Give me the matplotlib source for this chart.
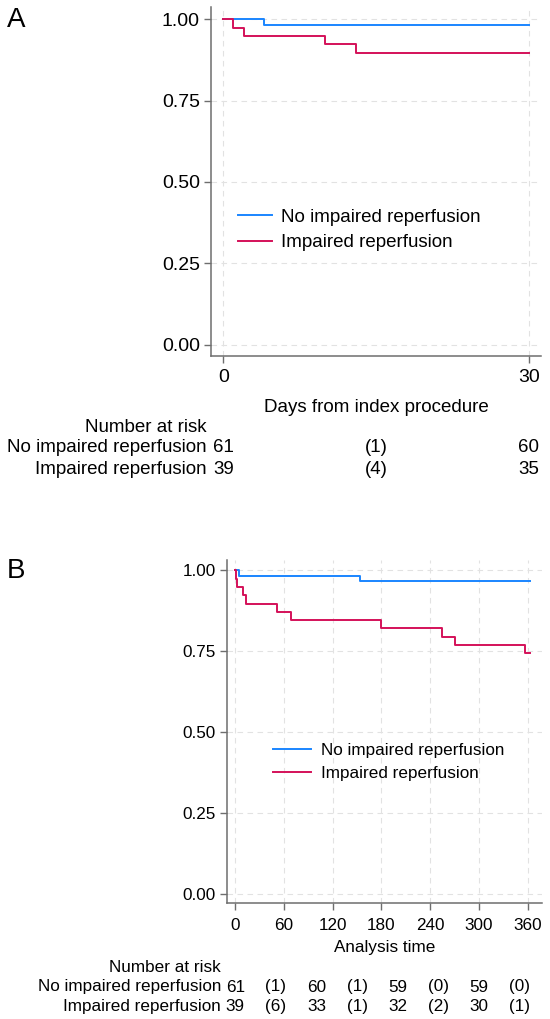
import matplotlib.pyplot as plt
import matplotlib.transforms as mtransforms

plt.rcParams['font.family'] = ['Liberation Sans', 'DejaVu Sans']

BLUE = "#1A85FF"
RED = "#D41159"
GROUPS = ["No impaired reperfusion", "Impaired reperfusion"]

# panel A: 30-day survival (days, survivor function)
a_no_t = [0, 4, 30]
a_no_s = [1.0, 0.984, 0.984]
a_imp_t = [0, 1, 2, 10, 13, 30]
a_imp_s = [1.0, 0.974, 0.949, 0.923, 0.897, 0.897]
a_risk_t = [0, 15, 30]
a_risk_no = ["61", "(1)", "60"]
a_risk_imp = ["39", "(4)", "35"]

# panel B: 1-year survival
b_no_t = [0, 4, 153, 363]
b_no_s = [1.0, 0.984, 0.967, 0.967]
b_imp_t = [0, 1, 2, 10, 13, 51, 68, 180, 255, 270, 357, 363]
b_imp_s = [1.0, 0.974, 0.949, 0.923, 0.897, 0.872, 0.846, 0.821, 0.795, 0.769, 0.744, 0.744]
b_risk_t = [0, 50, 100, 150, 200, 250, 300, 350]
b_risk_no = ["61", "(1)", "60", "(1)", "59", "(0)", "59", "(0)"]
b_risk_imp = ["39", "(6)", "33", "(1)", "32", "(2)", "30", "(1)"]

yticks = [0, 0.25, 0.5, 0.75, 1.0]
ylabels = ["0.00", "0.25", "0.50", "0.75", "1.00"]

W, H = 550, 1019
fig = plt.figure(figsize=(W / 100, H / 100), dpi=100)


def px_axes(l, t, r, b):
    return fig.add_axes([l / W, 1 - b / H, (r - l) / W, (b - t) / H])


def style(ax, fs, xticks, xpad):
    for s in ["top", "right"]:
        ax.spines[s].set_visible(False)
    for s in ["left", "bottom"]:
        ax.spines[s].set_color("#6e6e6e")
        ax.spines[s].set_linewidth(1.1)
    ax.tick_params(colors="#6e6e6e", labelcolor="black", labelsize=fs,
                   length=5, width=1.0, pad=3)
    ax.tick_params(axis="x", pad=xpad)
    ax.set_yticks(yticks)
    ax.set_yticklabels(ylabels)
    ax.set_xticks(xticks)
    ax.grid(True, ls=(0, (5, 4)), color="#e2e2e2", lw=0.8)
    ax.set_axisbelow(True)


def risk_table(ax, fs, times, rows, right_px, y_title, y_rows):
    tr = mtransforms.blended_transform_factory(ax.transData, fig.transFigure)
    fig.text(right_px / W, 1 - y_title / H, "Number at risk", ha="right",
             va="center", fontsize=fs)
    for (name, vals), y in zip(rows, y_rows):
        fig.text(right_px / W, 1 - y / H, name, ha="right", va="center", fontsize=fs)
        for t, v in zip(times, vals):
            ax.text(t, 1 - y / H, v, transform=tr, ha="center", va="center",
                    fontsize=fs, clip_on=False)


# ---- panel A
axA = px_axes(211, 7, 541, 356)
axA.step(a_no_t, a_no_s, where="post", color=BLUE, lw=1.4, label=GROUPS[0])
axA.step(a_imp_t, a_imp_s, where="post", color=RED, lw=1.4, label=GROUPS[1])
style(axA, 14, [0, 30], 4.5)
axA.set_xlim(-1.2, 31.2)
axA.set_ylim(-0.035, 1.038)
axA.set_xlabel("Days from index procedure", fontsize=13.5, labelpad=9)
axA.legend(loc="center left", bbox_to_anchor=(238 / W, 1 - 230 / H),
           bbox_transform=fig.transFigure, frameon=False, fontsize=13.5,
           handlelength=1.8, handletextpad=0.5, borderpad=0, borderaxespad=0,
           labelspacing=0.45)
risk_table(axA, 13.5, a_risk_t, [(GROUPS[0], a_risk_no), (GROUPS[1], a_risk_imp)],
           207, 428, [448, 469])
fig.text(7 / W, 1 - 20 / H, "A", fontsize=20, va="center", ha="left")

# ---- panel B
axB = px_axes(227, 560, 542, 903)
axB.step(b_no_t, b_no_s, where="post", color=BLUE, lw=1.4, label=GROUPS[0])
axB.step(b_imp_t, b_imp_s, where="post", color=RED, lw=1.4, label=GROUPS[1])
style(axB, 12.3, [0, 60, 120, 180, 240, 300, 360], 6)
axB.set_xlim(-10.3, 377.7)
axB.set_ylim(-0.027, 1.032)
axB.set_xlabel("Analysis time", fontsize=12.3, labelpad=5)
axB.legend(loc="center left", bbox_to_anchor=(273 / W, 1 - 762 / H),
           bbox_transform=fig.transFigure, frameon=False, fontsize=12.3,
           handlelength=2.2, handletextpad=0.6, borderpad=0, borderaxespad=0,
           labelspacing=0.45)
risk_table(axB, 12.3, b_risk_t, [(GROUPS[0], b_risk_no), (GROUPS[1], b_risk_imp)],
           221, 968, [987, 1006.5])
fig.text(7 / W, 1 - 571 / H, "B", fontsize=20, va="center", ha="left")

fig.savefig("out.png", dpi=100)
